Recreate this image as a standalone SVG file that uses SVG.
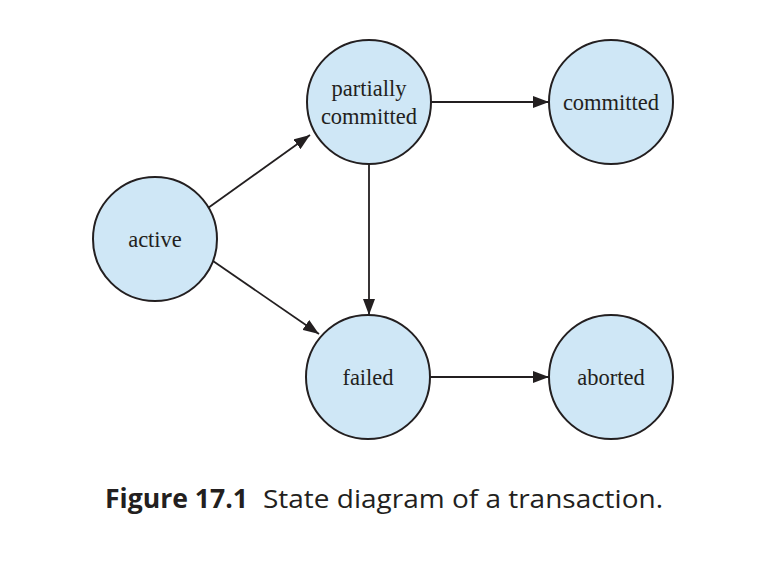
<svg xmlns="http://www.w3.org/2000/svg" width="776" height="566" viewBox="0 0 776 566">
<style>
.node circle{fill:#cfe7f6;stroke:#231f20;stroke-width:2}
.node text{font-family:"Liberation Serif","Times New Roman",serif;font-size:22.5px;fill:#231f20;text-anchor:middle}
.edge{stroke:#231f20;stroke-width:1.8;fill:none;marker-end:url(#ah)}
.cap{font-family:"Open Sans","Liberation Sans",sans-serif;font-size:26px;fill:#231f20}
</style>
<defs>
<marker id="ah" viewBox="0 0 16 12" refX="16" refY="6" markerWidth="16" markerHeight="12" markerUnits="userSpaceOnUse" orient="auto">
<path d="M0,0 L16,6 L0,12 Z" fill="#231f20"/>
</marker>
</defs>
<rect width="776" height="566" fill="#ffffff"/>
<g id="connectors">
<line class="edge" x1="208" y1="208" x2="310" y2="135"/>
<line class="edge" x1="213" y1="261" x2="319" y2="334"/>
<line class="edge" x1="369" y1="164" x2="369" y2="315"/>
<line class="edge" x1="431" y1="102" x2="549" y2="102"/>
<line class="edge" x1="430" y1="377" x2="549" y2="377"/>
</g>
<g id="active" class="node"><circle cx="155" cy="239" r="62"/><text x="155" y="247">active</text></g>
<g id="partially-committed" class="node"><circle cx="369" cy="102" r="62"/><text x="369" y="96">partially</text><text x="369" y="124">committed</text></g>
<g id="committed" class="node"><circle cx="611" cy="102" r="62"/><text x="611" y="110">committed</text></g>
<g id="failed" class="node"><circle cx="368" cy="377" r="62"/><text x="368" y="385">failed</text></g>
<g id="aborted" class="node"><circle cx="611" cy="377" r="62"/><text x="611" y="385">aborted</text></g>
<text class="cap" x="105" y="508" font-weight="bold" textLength="143" lengthAdjust="spacingAndGlyphs">Figure 17.1</text>
<text class="cap" x="263" y="508" textLength="400" lengthAdjust="spacingAndGlyphs">State diagram of a transaction.</text>
</svg>
